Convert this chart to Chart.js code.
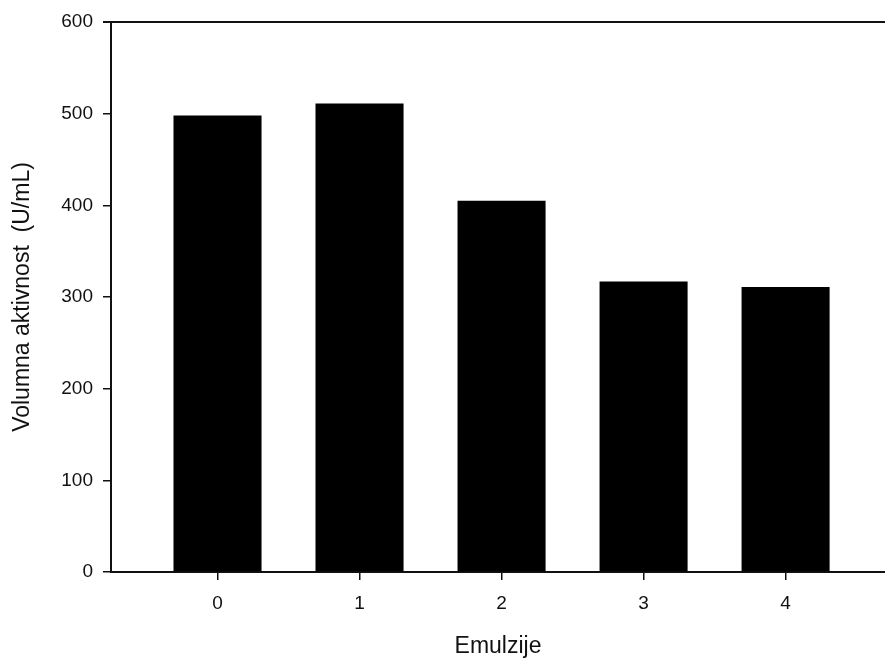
<!DOCTYPE html>
<html>
<head>
<meta charset="utf-8">
<script src="https://cdn.jsdelivr.net/npm/chart.js@4"></script>
<style>
  html, body { margin: 0; padding: 0; background: #fff; overflow: hidden; }
  #wrap { width: 885px; height: 660px; }
</style>
</head>
<body>
<div id="wrap"><canvas id="activityChart"></canvas></div>
<script>
    // emulsion number vs volumetric activity
    const emulsions = [0, 1, 2, 3, 4];
    const activity = [498, 511, 405, 317, 311];
    const yTicks = [0, 100, 200, 300, 400, 500, 600];

    const points = emulsions.map((e, i) => ({ x: e, y: activity[i] }));

    // top frame line (the plot has no right edge inside the picture)
    const topFrame = {
      id: 'topFrame',
      afterDraw(chart) {
        const { ctx, chartArea } = chart;
        ctx.save();
        ctx.strokeStyle = '#111';
        ctx.lineWidth = 2;
        ctx.beginPath();
        ctx.moveTo(chartArea.left - 8, chartArea.top);
        ctx.lineTo(chartArea.right, chartArea.top);
        ctx.stroke();
        ctx.restore();
      }
    };

    const ctx = document.getElementById('activityChart').getContext('2d');
    const activityChart = new Chart(ctx, {
      type: 'bar',
      data: {
        datasets: [{
          data: points,
          backgroundColor: '#000',
          borderWidth: 0,
          categoryPercentage: 1,
          barPercentage: 0.62,
        }]
      },
      plugins: [topFrame],
      options: {
        responsive: true,
        maintainAspectRatio: false,
        animation: false,
        layout: { padding: { top: 22, right: 0, left: 0, bottom: 0 } },
        plugins: {
          legend: { display: false },
          tooltip: { enabled: false }
        },
        scales: {
          x: {
            type: 'linear',
            min: -0.75,
            max: 4.7,
            offset: false,
            afterFit: s => { s.height = 88; },
            afterBuildTicks: s => { s.ticks = emulsions.map(v => ({ value: v })); },
            grid: { drawOnChartArea: false, offset: false, tickLength: 8, color: '#111', lineWidth: 1.5 },
            border: { color: '#111', width: 2 },
            ticks: { color: '#111', padding: 12, font: { family: 'Liberation Sans', size: 19 } },
            title: {
              display: true,
              text: 'Emulzije',
              color: '#111',
              padding: { top: 0, bottom: 0 },
              font: { family: 'Liberation Sans', size: 23 }
            }
          },
          y: {
            min: 0,
            max: 600,
            afterFit: s => { s.width = 111; },
            afterBuildTicks: s => { s.ticks = yTicks.map(v => ({ value: v })); },
            grid: { drawOnChartArea: false, tickLength: 8, color: '#111', lineWidth: 1.5 },
            border: { color: '#111', width: 2 },
            ticks: { color: '#111', padding: 10, font: { family: 'Liberation Sans', size: 19 } },
            title: {
              display: true,
              text: 'Volumna aktivnost  (U/mL)',
              color: '#111',
              padding: { top: 9, bottom: 0 },
              font: { family: 'Liberation Sans', size: 23 }
            }
          }
        }
      }
    });
</script>
</body>
</html>
